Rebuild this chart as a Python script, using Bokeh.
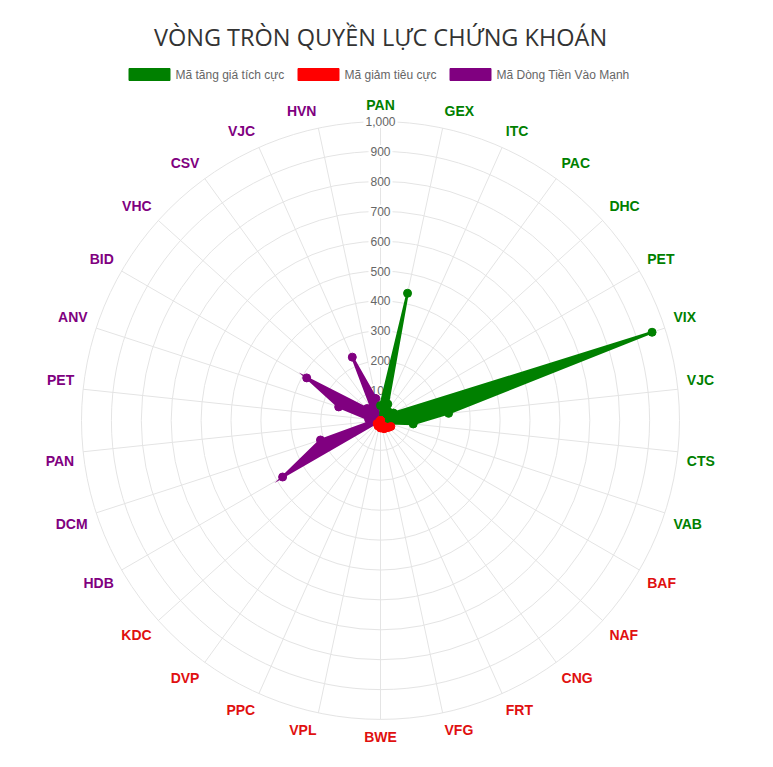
import numpy as np
from bokeh.plotting import figure
from bokeh.models import Range1d
from bokeh.core.properties import value
from bokeh.embed import file_html
from bokeh.resources import INLINE

# --- data ---
title_text = "VÒNG TRÒN QUYỀN LỰC CHỨNG KHOÁN"

up_tickers = ["PAN", "GEX", "ITC", "PAC", "DHC", "PET", "VIX", "VJC", "CTS", "VAB"]
up_values = [50, 435, 60, 40, 40, 50, 955, 229, 110, 30]

down_tickers = ["BAF", "NAF", "CNG", "FRT", "VFG", "BWE", "VPL", "PPC", "DVP", "KDC"]
down_values = [40, 35, 30, 30, 25, 25, 20, 20, 15, 15]

flow_tickers = ["HDB", "DCM", "PAN", "PET", "ANV", "BID", "VHC", "CSV", "VJC", "HVN"]
flow_values = [378, 211, 30, 40, 147, 285, 60, 50, 232, 75]

series_names = ["Mã tăng giá tích cực", "Mã giảm tiêu cực", "Mã Dòng Tiền Vào Mạnh"]
series_colors = ["green", "red", "purple"]

tick_values = [100, 200, 300, 400, 500, 600, 700, 800, 900, 1000]
tick_labels = ["100", "200", "300", "400", "500", "600", "700", "800", "900", "1,000"]

# --- geometry ---
S = 0.299  # pixels per value unit
W, H = 757, 751
CX, CY = 380, 420  # centre of the radar inside the figure, px


def px(v):
    return v / S


labels = up_tickers + down_tickers + flow_tickers
label_colors = ["green"] * len(up_tickers) + ["#e01010"] * len(down_tickers) + ["purple"] * len(flow_tickers)
n = len(labels)
ang = np.radians(np.arange(n) * 360.0 / n)
sin_a, cos_a = np.sin(ang), np.cos(ang)

p = figure(width=W, height=H, x_range=Range1d(px(-CX), px(W - CX)),
           y_range=Range1d(px(-(H - CY)), px(CY)),
           x_axis_type=None, y_axis_type=None, output_backend="svg",
           toolbar_location=None, min_border=0)
p.grid.visible = False
p.outline_line_color = None

# grid rings and spokes
p.circle(x=[0] * len(tick_values), y=[0] * len(tick_values), radius=tick_values,
         fill_color=None, line_color="#e4e4e4", line_width=1)
p.segment(x0=[0] * n, y0=[0] * n, x1=(1000 * sin_a).tolist(), y1=(1000 * cos_a).tolist(),
          line_color="#e4e4e4", line_width=1)

# tick labels with white backdrop
p.text(x=[0] * len(tick_values), y=tick_values, text=tick_labels,
       text_align="center", text_baseline="middle", text_font_size="12px",
       text_font=value("Liberation Sans"), text_color="#666666",
       background_fill_color="white", padding=2)

# datasets: each one is a 30-point polygon, zero outside its own group
series = [
    up_values + [0] * 20,
    [0] * 10 + down_values + [0] * 10,
    [0] * 20 + flow_values,
]
for k in [2, 0, 1]:
    vals = np.array(series[k], dtype=float)
    xs = (vals * sin_a).tolist()
    ys = (vals * cos_a).tolist()
    c = series_colors[k]
    p.patch(xs, ys, fill_color=c, line_color=c, line_width=2.5, line_join="miter")
    p.scatter(xs, ys, size=8, fill_color=c, line_color=c)

# point labels around the radar
r_lab = px(308)
deg = np.degrees(ang)
aligns, bases = [], []
for d in deg:
    if abs(d) < 1 or abs(d - 180) < 1:
        aligns.append("center")
    elif d < 180:
        aligns.append("left")
    else:
        aligns.append("right")
    bases.append("bottom" if (d < 90 or d > 270) else "top")
p.text(x=(r_lab * sin_a).tolist(), y=(r_lab * cos_a).tolist(), text=labels,
       text_align=aligns, text_baseline=bases, text_color=label_colors,
       text_font=value("Liberation Sans"), text_font_style="bold", text_font_size="14px")

# title
p.text(x=[0], y=[px(420 - 36)], text=[title_text], text_align="center",
       text_baseline="middle", text_font=value("Open Sans"), text_font_size="23.5px",
       text_color="#333333")

# legend
box_left = [128, 297, 449]
text_left = [175, 344, 496]
leg_y = px(420 - 74)
p.rect(x=[px(b + 21 - 380) for b in box_left], y=[leg_y] * 3, width=px(41), height=px(12),
       fill_color=series_colors, line_color=series_colors)
p.text(x=[px(t - 380) for t in text_left], y=[leg_y] * 3, text=series_names,
       text_align="left", text_baseline="middle", text_font=value("Liberation Sans"),
       text_font_size="12px", text_color="#666666")

open("out.html", "w").write(file_html(p, INLINE))
